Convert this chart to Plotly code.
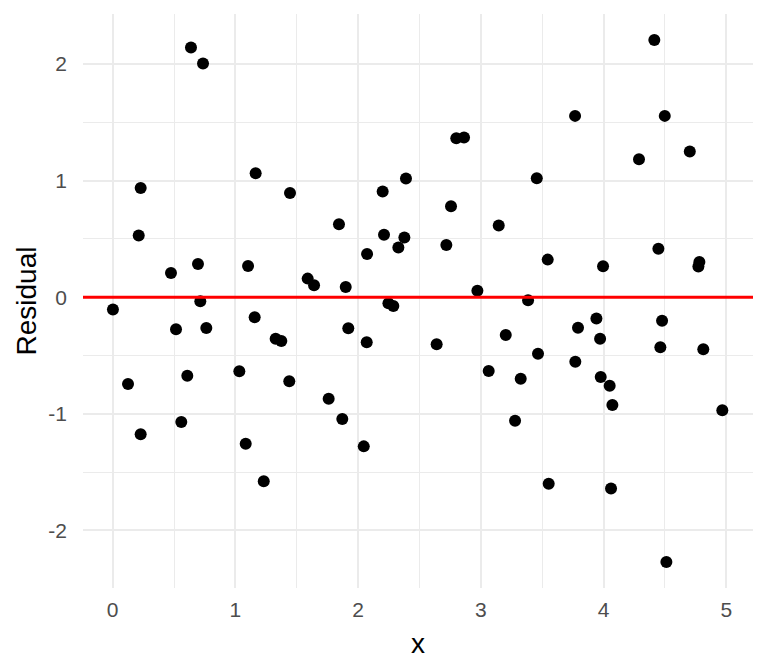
import plotly.graph_objects as go

x_vals = [0.002, 0.125, 0.212, 0.228, 0.228, 0.475, 0.516, 0.559, 0.608, 0.638,
          0.695, 0.714, 0.736, 0.763, 1.032, 1.084, 1.103, 1.157, 1.165, 1.231,
          1.328, 1.374, 1.439, 1.445, 1.589, 1.641, 1.760, 1.844, 1.871, 1.899,
          1.920, 2.046, 2.070, 2.073, 2.200, 2.211, 2.247, 2.287, 2.328, 2.377,
          2.390, 2.640, 2.719, 2.757, 2.800, 2.863, 2.972, 3.064, 3.146, 3.203,
          3.279, 3.325, 3.385, 3.456, 3.466, 3.545, 3.553, 3.768, 3.770, 3.792,
          3.942, 3.972, 3.977, 3.996, 4.050, 4.061, 4.072, 4.289, 4.414, 4.447,
          4.463, 4.477, 4.499, 4.512, 4.703, 4.773, 4.781, 4.813, 4.968]
residuals = [-0.105, -0.744, 0.529, 0.938, -1.176, 0.209, -0.275, -1.070, -0.673, 2.142,
             0.286, -0.034, 2.005, -0.264, -0.635, -1.257, 0.269, -0.172, 1.064, -1.579,
             -0.355, -0.375, -0.721, 0.895, 0.160, 0.103, -0.870, 0.627, -1.045, 0.088,
             -0.266, -1.279, -0.386, 0.372, 0.907, 0.537, -0.052, -0.075, 0.426, 0.512,
             1.018, -0.403, 0.449, 0.781, 1.365, 1.370, 0.055, -0.633, 0.615, -0.324,
             -1.059, -0.698, -0.025, 1.021, -0.484, 0.323, -1.600, 1.556, -0.553, -0.261,
             -0.183, -0.355, -0.684, 0.266, -0.759, -1.640, -0.924, 1.184, 2.206, 0.417,
             -0.429, -0.201, 1.556, -2.270, 1.250, 0.263, 0.303, -0.446, -0.970]
x_ticks = [0, 1, 2, 3, 4, 5]
x_labels = ["0", "1", "2", "3", "4", "5"]
y_ticks = [-2, -1, 0, 1, 2]
y_labels = ["-2", "-1", "0", "1", "2"]
ref_y = 0

fig = go.Figure()
fig.add_trace(go.Scatter(x=x_vals, y=residuals, mode="markers",
                         marker=dict(color="black", size=12, line=dict(width=0)),
                         showlegend=False, hoverinfo="x+y"))
fig.add_shape(type="line", xref="paper", x0=0, x1=1, yref="y", y0=ref_y, y1=ref_y,
              line=dict(color="red", width=3))

font = "Liberation Sans, Arial, sans-serif"
fig.update_layout(
    width=752, height=656,
    margin=dict(l=75, r=7, t=6, b=76),
    plot_bgcolor="white", paper_bgcolor="white",
    font=dict(family=font),
    xaxis=dict(range=[-0.242, 5.218], tickvals=x_ticks, ticktext=x_labels,
               showline=False, zeroline=False, automargin=False,
               gridcolor="#EBEBEB", gridwidth=2, ticks="", ticklabelstandoff=7,
               tickfont=dict(size=21, color="#4D4D4D"),
               minor=dict(dtick=0.5, tick0=0, showgrid=True, gridcolor="#EBEBEB", gridwidth=1),
               title=dict(text="x", font=dict(size=28, color="black"), standoff=13)),
    yaxis=dict(range=[-2.494, 2.43], tickvals=y_ticks, ticktext=y_labels,
               showline=False, zeroline=False, automargin=False,
               gridcolor="#EBEBEB", gridwidth=2, ticks="", ticklabelstandoff=15,
               tickfont=dict(size=21, color="#4D4D4D"),
               minor=dict(dtick=0.5, tick0=0, showgrid=True, gridcolor="#EBEBEB", gridwidth=1),
               title=dict(text="Residual", font=dict(size=28, color="black"), standoff=3)),
)
fig.write_html("out.html")
